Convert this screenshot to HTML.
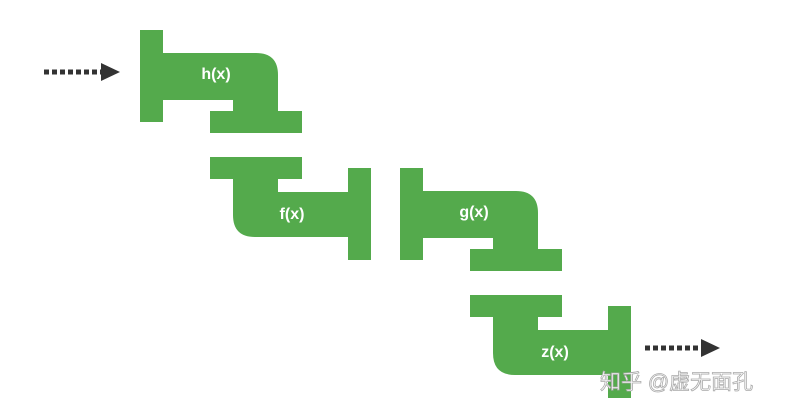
<!DOCTYPE html>
<html><head><meta charset="utf-8"><style>
html,body{margin:0;padding:0;background:#fff;width:793px;height:415px;overflow:hidden}
</style></head><body>
<svg width="793" height="415" viewBox="0 0 793 415" font-family="Liberation Sans, sans-serif">
<g fill="#54aa4c">
 <g>
  <rect x="140" y="30" width="23" height="92"/>
  <path d="M163,53 H256 Q278,53 278,75 V111 H302 V133 H210 V111 H233 V100 H163 Z"/>
 </g>
 <g>
  <path d="M210,157 H302 V179 H278 V192 H348 V237 H255 Q233,237 233,215 V179 H210 Z"/>
  <rect x="348" y="168" width="23" height="92"/>
 </g>
 <g transform="translate(260,138)">
  <rect x="140" y="30" width="23" height="92"/>
  <path d="M163,53 H256 Q278,53 278,75 V111 H302 V133 H210 V111 H233 V100 H163 Z"/>
 </g>
 <g transform="translate(260,138)">
  <path d="M210,157 H302 V179 H278 V192 H348 V237 H255 Q233,237 233,215 V179 H210 Z"/>
  <rect x="348" y="168" width="23" height="92"/>
 </g>
</g>
<g fill="#fff" font-size="16" font-weight="bold" text-anchor="middle">
 <text x="216" y="79">h(x)</text>
 <text x="292" y="219">f(x)</text>
 <text x="474" y="217">g(x)</text>
 <text x="555" y="357">z(x)</text>
</g>
<g>
 <line x1="44" y1="72" x2="102" y2="72" stroke="#333" stroke-width="5" stroke-dasharray="5,3"/>
 <path d="M101,63 L120,72 L101,81 Z" fill="#333"/>
</g>
<g>
 <line x1="645" y1="348" x2="702" y2="348" stroke="#333" stroke-width="5" stroke-dasharray="5,3"/>
 <path d="M701,339 L720,348 L701,357 Z" fill="#333"/>
</g>
<text x="600" y="389" font-size="21" fill="#fff" stroke="#aaa" stroke-width="0.8" font-family="Liberation Sans, Noto Sans CJK SC, sans-serif">知乎 @虚无面孔</text>
</svg>
</body></html>
